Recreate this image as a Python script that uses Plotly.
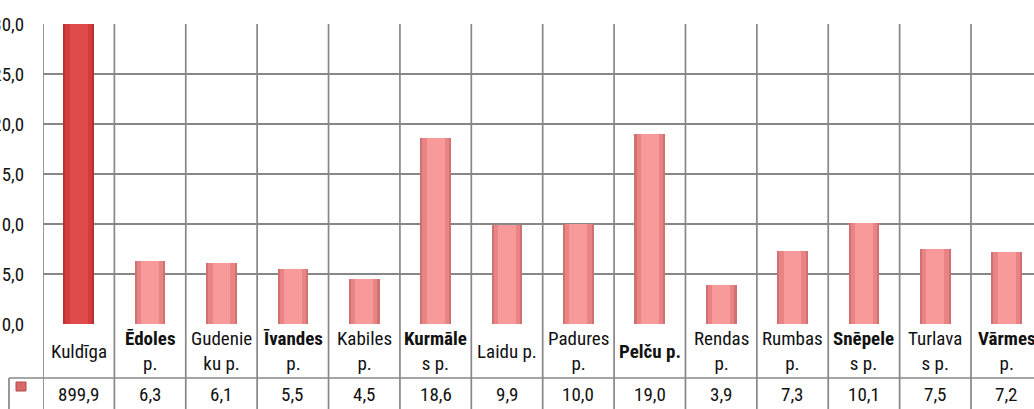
import plotly.graph_objects as go

categories = ["Kuldīga", "<b>Ēdoles</b><br>p.", "Gudenie<br>ku p.", "<b>Īvandes</b><br>p.", "Kabiles<br>p.",
              "<b>Kurmāle</b><br>s p.", "Laidu p.", "Padures<br>p.", "<b>Pelču p.</b>", "Rendas<br>p.",
              "Rumbas<br>p.", "<b>Snēpele</b><br>s p.", "Turlava<br>s p.", "<b>Vārmes</b><br>p."]
values = [899.9, 6.3, 6.1, 5.5, 4.5, 18.6, 9.9, 10.0, 19.0, 3.9, 7.3, 10.1, 7.5, 7.2]
value_labels = ["899,9", "6,3", "6,1", "5,5", "4,5", "18,6", "9,9", "10,0", "19,0", "3,9", "7,3", "10,1", "7,5", "7,2"]
y_ticks = [0, 5, 10, 15, 20, 25, 30]

FONT = "Liberation Sans Narrow, Arial Narrow, Roboto Condensed, Liberation Sans, sans-serif"
W, H = 1034, 409
ML, MT, MB = 43, 24, 85
PW = W - ML
PH = H - MT - MB
colw = (971 - 43) / 13.0
xmax = -0.5 + PW / colw

xs = list(range(len(categories)))
layers = [
    (0.43, "#b83030", "#d07070"),
    (0.37, "#d23c3c", "#e88484"),
    (0.25, "#e04a4a", "#f89a9a"),
]

fig = go.Figure()
for w, c_first, c_rest in layers:
    cols = [c_first if i == 0 else c_rest for i in xs]
    fig.add_trace(go.Bar(x=xs, y=values, width=w, marker=dict(color=cols, line=dict(width=0)),
                         hoverinfo="skip", showlegend=False))

grid = "#878787"

def py(px):
    return (H - MB - px) / PH

def pxx(px):
    return (px - ML) / PW

shapes = []
for i in range(len(categories) + 1):
    shapes.append(dict(type="line", xref="x", yref="paper", x0=i - 0.5, x1=i - 0.5,
                       y0=py(H + 5), y1=1, line=dict(color=grid, width=1.7)))
shapes.append(dict(type="line", xref="paper", yref="paper", x0=pxx(9), x1=1.01,
                   y0=py(378), y1=py(378), line=dict(color=grid, width=1.7)))
shapes.append(dict(type="line", xref="paper", yref="paper", x0=pxx(9), x1=pxx(9),
                   y0=py(H + 5), y1=py(378), line=dict(color=grid, width=1.7)))
shapes.append(dict(type="rect", xref="paper", yref="paper", x0=pxx(16), x1=pxx(26),
                   y0=py(391), y1=py(382), line=dict(color="#b04a4a", width=1),
                   fillcolor="#d96a6a"))

annotations = []
for i, c in enumerate(categories):
    annotations.append(dict(x=i, y=py(351), xref="x", yref="paper", text=c, showarrow=False,
                            xanchor="center", yanchor="middle",
                            font=dict(family=FONT, size=19, color="#111")))
    annotations.append(dict(x=i, y=py(394), xref="x", yref="paper", text=value_labels[i], showarrow=False,
                            xanchor="center", yanchor="middle",
                            font=dict(family=FONT, size=19, color="#111")))

fig.update_layout(
    width=W, height=H,
    margin=dict(l=ML, r=0, t=MT, b=MB, pad=0, autoexpand=False),
    plot_bgcolor="white", paper_bgcolor="white",
    barmode="overlay", bargap=0,
    separators=", ",
    shapes=shapes, annotations=annotations,
    showlegend=False,
    xaxis=dict(range=[-0.5, xmax], showgrid=False, showticklabels=False, zeroline=False,
               ticks="", showline=False, fixedrange=True, automargin=False),
    yaxis=dict(range=[0, 30], tickvals=y_ticks, tickformat=".1f", showgrid=True,
               gridcolor=grid, gridwidth=1.7, zeroline=False, automargin=False,
               ticks="outside", ticklen=14, tickcolor="rgba(0,0,0,0)", showline=False,
               ticklabeloverflow="allow",
               tickfont=dict(family=FONT, size=19, color="#111"), fixedrange=True),
)

fig.write_html("out.html", config={"displayModeBar": False},
               post_script="document.body.style.margin='0px';document.body.style.overflow='hidden';")
